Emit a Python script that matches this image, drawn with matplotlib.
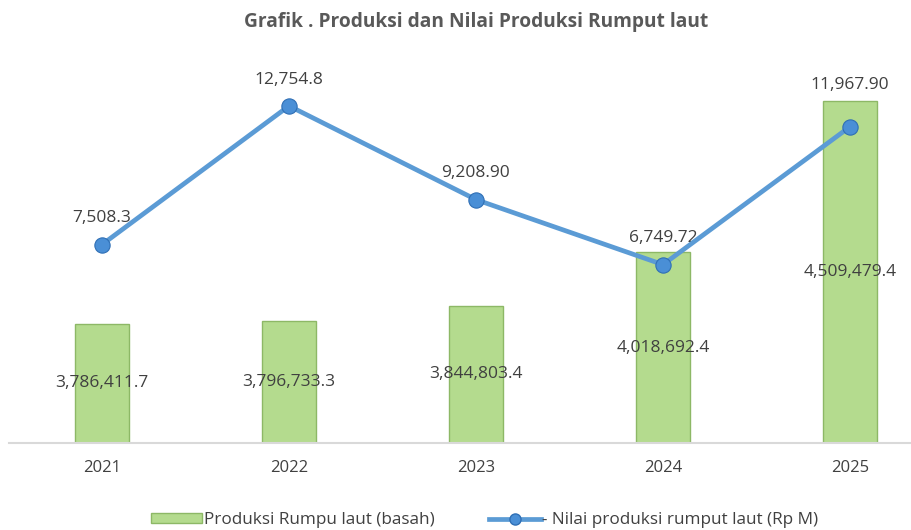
import numpy as np
import matplotlib.pyplot as plt
from matplotlib.patches import Patch
from matplotlib.lines import Line2D

plt.rcParams['font.family'] = ['Open Sans', 'DejaVu Sans']

# data
tahun = ['2021', '2022', '2023', '2024', '2025']
produksi = [3786411.7, 3796733.3, 3844803.4, 4018692.4, 4509479.4]
nilai = [7508.3, 12754.8, 9208.90, 6749.72, 11967.90]
label_produksi = ['3,786,411.7', '3,796,733.3', '3,844,803.4', '4,018,692.4', '4,509,479.4']
label_nilai = ['7,508.3', '12,754.8', '9,208.90', '6,749.72', '11,967.90']

teks = '#404040'
fig = plt.figure(figsize=(9.11, 5.30), dpi=100, facecolor='white')
# plot area runs a bit past the right edge, like the source crop
ax = fig.add_axes([8.5 / 911, 1 - 443 / 530, 935 / 911, (443 - 73) / 530])
x = np.arange(len(tahun))

ax.bar(x, [p - 3400000 for p in produksi], bottom=3400000, width=0.29,
       color='#b4db8e', edgecolor='#8db866', linewidth=1.0, zorder=2)
ax.set_ylim(3400000, 4600000)
ax.set_xlim(-0.5, 4.5)
for i, p in enumerate(produksi):
    ax.text(x[i], (p + 3400000) / 2, label_produksi[i], ha='center', va='center',
            fontsize=12.5, color=teks, zorder=5)

ax.set_yticks([])
ax.set_xticks(x)
ax.set_xticklabels(tahun, fontsize=12, color=teks)
ax.tick_params(axis='x', length=0, pad=12)
for s in ['top', 'right', 'left']:
    ax.spines[s].set_visible(False)
ax.spines['bottom'].set_color('#d9d9d9')
ax.spines['bottom'].set_linewidth(1.5)

ax2 = ax.twinx()
ax2.plot(x, nilai, color='#5b9bd5', linewidth=3.4, marker='o', markersize=11,
         markerfacecolor='#4a8fd6', markeredgecolor='#2f6fb5', markeredgewidth=0.8, zorder=4)
ax2.set_ylim(0, 14000)
ax2.set_yticks([])
for s in ['top', 'right', 'left', 'bottom']:
    ax2.spines[s].set_visible(False)
naik = [19, 19, 19, 19, 30]
for i, v in enumerate(nilai):
    ax2.annotate(label_nilai[i], (x[i], v), xytext=(0, naik[i]), textcoords='offset points',
                 ha='center', va='center', fontsize=12.5, color=teks)

fig.text(0.523, 1 - 22 / 530, 'Grafik . Produksi dan Nilai Produksi Rumput laut',
         ha='center', va='center', fontsize=13.8, fontweight='bold', color='#595959')

# legend
h1 = Patch(facecolor='#b4db8e', edgecolor='#8db866', label='Produksi Rumpu laut (basah)')
h2 = Line2D([], [], color='#5b9bd5', linewidth=3.4, marker='o', markersize=8,
            markerfacecolor='#4a8fd6', markeredgecolor='#2f6fb5',
            label='- Nilai produksi rumput laut (Rp M)')
fig.legend(handles=[h1, h2], loc='center', bbox_to_anchor=(0.532, 1 - 520 / 530), ncol=2,
           frameon=False, fontsize=12.3, labelcolor=teks, columnspacing=3.2,
           handlelength=3.0, handletextpad=0.1, handleheight=0.5)

fig.savefig('out.png', dpi=100)
